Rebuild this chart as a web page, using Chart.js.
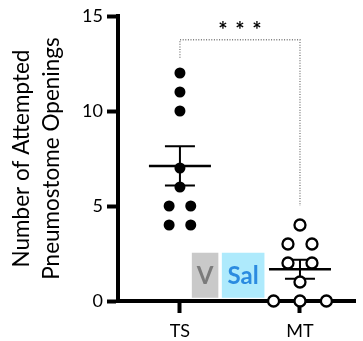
<!DOCTYPE html>
<html>
<head>
<meta charset="utf-8">
<script src="https://cdn.jsdelivr.net/npm/chart.js@4"></script>
<style>
  html, body { margin: 0; padding: 0; background: #fff; }
  #wrap { width: 363px; height: 341px; }
</style>
</head>
<body>
<div id="wrap"><canvas id="chart" width="363" height="341"></canvas></div>
<script>
// data
const categories = ['TS', 'MT'];
const tsValues = [12, 11, 10, 7, 6, 5, 5, 4, 4];
const mtValues = [4, 3, 3, 2, 2, 1, 0, 0, 0];
// horizontal scatter of the dots (category units)
const tsJitter = [0, 0, 0, 0, 0, -0.09, 0.09, -0.09, 0.09];
const mtJitter = [0, -0.1, 0.1, -0.1, 0.1, 0, -0.22, 0, 0.22];
const yTicks = [0, 5, 10, 15];
const sigStars = ['*', '*', '*'];

const FONT = 'Lato, "Open Sans", sans-serif';

function meanSem(arr) {
    const n = arr.length;
    const m = arr.reduce((a, b) => a + b, 0) / n;
    const sd = Math.sqrt(arr.reduce((a, b) => a + (b - m) * (b - m), 0) / (n - 1));
    return { mean: m, sem: sd / Math.sqrt(n) };
}

const pts = (vals, jit, idx) => vals.map((v, i) => ({ x: idx + 1 + jit[i], y: v }));

// mean +/- SEM bars, bracket, labels
const extras = {
    id: 'extras',
    beforeDatasetsDraw(chart) {
        const { ctx, scales: { x, y } } = chart;
        ctx.save();
        // V / Sal boxes
        const box = (x0, x1, fill, txt, col) => {
            const px0 = x.getPixelForValue(x0), px1 = x.getPixelForValue(x1);
            const py0 = y.getPixelForValue(2.54), py1 = y.getPixelForValue(0.17);
            ctx.fillStyle = fill;
            ctx.fillRect(px0, py0, px1 - px0, py1 - py0);
            ctx.fillStyle = col;
            ctx.font = 'bold 24px ' + FONT;
            ctx.textAlign = 'center';
            ctx.textBaseline = 'middle';
            ctx.fillText(txt, (px0 + px1) / 2, (py0 + py1) / 2 + 1);
        };
        box(1.099, 1.32, '#c9c9c9', 'V', '#7b7b7b');
        box(1.349, 1.704, '#aeeafc', 'Sal', '#2b8be0');

        // significance bracket
        ctx.strokeStyle = '#777';
        ctx.lineWidth = 1.3;
        ctx.setLineDash([1, 1.6]);
        ctx.beginPath();
        ctx.moveTo(x.getPixelForValue(1), y.getPixelForValue(12.8));
        ctx.lineTo(x.getPixelForValue(1), y.getPixelForValue(13.75));
        ctx.lineTo(x.getPixelForValue(2), y.getPixelForValue(13.75));
        ctx.lineTo(x.getPixelForValue(2), y.getPixelForValue(5.0));
        ctx.stroke();
        ctx.setLineDash([]);
        ctx.fillStyle = '#000';
        ctx.font = 'bold 22px ' + FONT;
        ctx.textAlign = 'center';
        ctx.textBaseline = 'middle';
        const mid = x.getPixelForValue(1.5);
        sigStars.forEach((s, i) => {
            ctx.fillText(s, mid + (i - 1) * 17, y.getPixelForValue(14.2));
        });

        // mean and SEM
        [tsValues, mtValues].forEach((vals, i) => {
            const { mean, sem } = meanSem(vals);
            const cx = x.getPixelForValue(i + 1);
            const pm = y.getPixelForValue(mean);
            const pu = y.getPixelForValue(mean + sem);
            const pl = y.getPixelForValue(mean - sem);
            ctx.strokeStyle = '#000';
            ctx.lineWidth = 2.5;
            ctx.beginPath();
            ctx.moveTo(cx - 31, pm); ctx.lineTo(cx + 31, pm);
            ctx.stroke();
            ctx.lineWidth = 2;
            ctx.beginPath();
            ctx.moveTo(cx, pu); ctx.lineTo(cx, pl);
            ctx.moveTo(cx - 15, pu); ctx.lineTo(cx + 15, pu);
            ctx.moveTo(cx - 15, pl); ctx.lineTo(cx + 15, pl);
            ctx.stroke();
        });
        ctx.restore();
    }
};

new Chart(document.getElementById('chart'), {
    type: 'scatter',
    data: {
        datasets: [{
            label: categories[0],
            data: pts(tsValues, tsJitter, 0),
            pointRadius: 5.5,
            pointBackgroundColor: '#000',
            pointBorderColor: '#000',
            pointBorderWidth: 0,
            clip: false
        }, {
            label: categories[1],
            data: pts(mtValues, mtJitter, 1),
            pointRadius: 5.5,
            pointBackgroundColor: '#fff',
            pointBorderColor: '#000',
            pointBorderWidth: 2.3,
            clip: false
        }]
    },
    options: {
        responsive: false,
        animation: false,
        layout: { padding: { top: 16, right: 0, left: 0, bottom: 0 } },
        plugins: { legend: { display: false }, tooltip: { enabled: false } },
        scales: {
            x: {
                type: 'linear',
                min: 0.484,
                max: 2.46,
                afterFit: s => { s.height = 40; },
                afterBuildTicks: s => { s.ticks = categories.map((c, i) => ({ value: i + 1 })); },
                grid: { drawOnChartArea: false, drawTicks: true, tickLength: 12, tickWidth: 4, color: '#000' },
                border: { display: true, width: 4, color: '#000' },
                ticks: {
                    padding: 7,
                    color: '#000',
                    font: { family: FONT, size: 18 },
                    callback: v => categories[v - 1] || ''
                }
            },
            y: {
                min: 0,
                max: 15,
                afterFit: s => { s.width = 118; },
                afterBuildTicks: s => { s.ticks = yTicks.map(v => ({ value: v })); },
                grid: { drawOnChartArea: false, drawTicks: true, tickLength: 11, tickWidth: 4, color: '#000' },
                border: { display: true, width: 4, color: '#000' },
                ticks: { padding: 4, color: '#000', font: { family: FONT, size: 18 } },
                title: {
                    display: true,
                    text: ['Number of Attempted', 'Pneumostome Openings'],
                    color: '#000',
                    font: { family: FONT, size: 22.5, lineHeight: 1.3 },
                    padding: { top: 7.5, bottom: 0 }
                }
            }
        }
    },
    plugins: [extras]
});
</script>
</body>
</html>
